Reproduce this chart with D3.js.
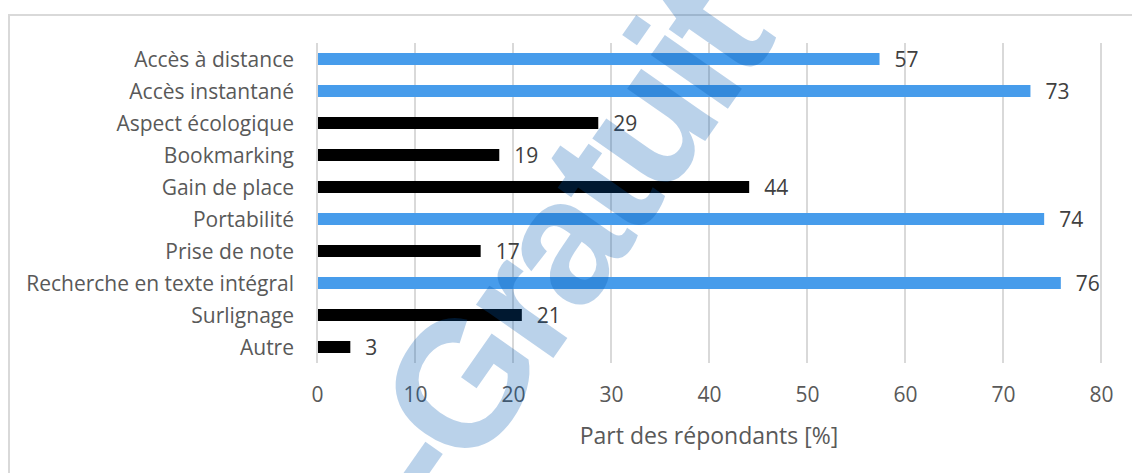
<!DOCTYPE html>
<html>
<head>
<meta charset="utf-8">
<script src="https://cdn.jsdelivr.net/npm/d3@7"></script>
<style>
  html, body { margin: 0; padding: 0; background: #ffffff; }
  svg { display: block; }
</style>
</head>
<body>
<svg id="chart" width="1132" height="473"></svg>
<script>
// ---- data ----
const categories = [
  "Accès à distance",
  "Accès instantané",
  "Aspect écologique",
  "Bookmarking",
  "Gain de place",
  "Portabilité",
  "Prise de note",
  "Recherche en texte intégral",
  "Surlignage",
  "Autre"
];
const shares = [57.4, 72.8, 28.7, 18.6, 44.1, 74.2, 16.7, 75.9, 20.9, 3.4];
const highlighted = [true, true, false, false, false, true, false, true, false, false];
const xTicks = [0, 10, 20, 30, 40, 50, 60, 70, 80];
const xTitle = "Part des répondants [%]";
const watermark = "-Gratuit";

// ---- layout ----
const W = 1132, H = 473;
const plot = { left: 317, right: 1101, top: 43, bottom: 363 };
const FONT = "'Open Sans', 'DejaVu Sans', sans-serif";
const BLUE = "#479CEB", BLACK = "#000000";
const GRID = "#D9D9D9", TEXT = "#595959", LABEL = "#404040";

const svg = d3.select("#chart");

// outer frame
svg.append("rect")
  .attr("x", 9).attr("y", 15)
  .attr("width", W + 20).attr("height", H + 20)
  .attr("fill", "#fff").attr("stroke", GRID).attr("stroke-width", 2);

const x = d3.scaleLinear().domain([0, 80]).range([plot.left, plot.right]);
const y = d3.scaleBand().domain(categories).range([plot.top, plot.bottom])
  .paddingInner(0.625).paddingOuter(0.3125);

// gridlines
svg.append("g")
  .selectAll("line").data(xTicks).join("line")
  .attr("x1", d => x(d)).attr("x2", d => x(d))
  .attr("y1", plot.top).attr("y2", plot.bottom)
  .attr("stroke", GRID).attr("stroke-width", 2);

// x tick labels
const xAxis = svg.append("g")
  .attr("transform", `translate(0,${plot.bottom})`)
  .call(d3.axisBottom(x).tickValues(xTicks).tickSize(0).tickPadding(0).tickFormat(d3.format("d")));
xAxis.select(".domain").remove();
xAxis.selectAll("text")
  .attr("y", 39).attr("dy", 0)
  .attr("fill", TEXT).style("font-family", FONT).style("font-size", "21px");

// y axis labels
const yAxis = svg.append("g")
  .attr("transform", `translate(${plot.left - 23},0)`)
  .call(d3.axisLeft(y).tickSize(0).tickPadding(0));
yAxis.select(".domain").remove();
yAxis.selectAll("text")
  .attr("x", 0).attr("dy", "0.36em")
  .attr("fill", TEXT).style("font-family", FONT).style("font-size", "21px");

// bars
svg.append("g")
  .selectAll("rect").data(categories).join("rect")
  .attr("x", x(0) + 1)
  .attr("y", d => y(d))
  .attr("width", (d, i) => x(shares[i]) - x(0) - 1)
  .attr("height", y.bandwidth())
  .attr("fill", (d, i) => highlighted[i] ? BLUE : BLACK);

// value labels
svg.append("g")
  .selectAll("text").data(categories).join("text")
  .attr("x", (d, i) => x(shares[i]) + 15)
  .attr("y", d => y(d) + y.bandwidth() / 2)
  .attr("dy", "0.36em")
  .attr("fill", LABEL).style("font-family", FONT).style("font-size", "21px")
  .text((d, i) => d3.format(".0f")(shares[i]));

// axis title
svg.append("text")
  .attr("x", (plot.left + plot.right) / 2).attr("y", 444)
  .attr("text-anchor", "middle")
  .attr("fill", TEXT).style("font-family", FONT).style("font-size", "23px")
  .text(xTitle);

// watermark overlay
svg.append("text")
  .attr("transform", "translate(442,517) rotate(-55)")
  .attr("fill", "rgb(0,90,176)").attr("fill-opacity", 0.27)
  .style("font-family", "'Liberation Sans', Arial, sans-serif")
  .style("font-weight", "bold").style("font-size", "178px")
  .style("letter-spacing", "-8px")
  .style("pointer-events", "none")
  .text(watermark);
</script>
</body>
</html>
